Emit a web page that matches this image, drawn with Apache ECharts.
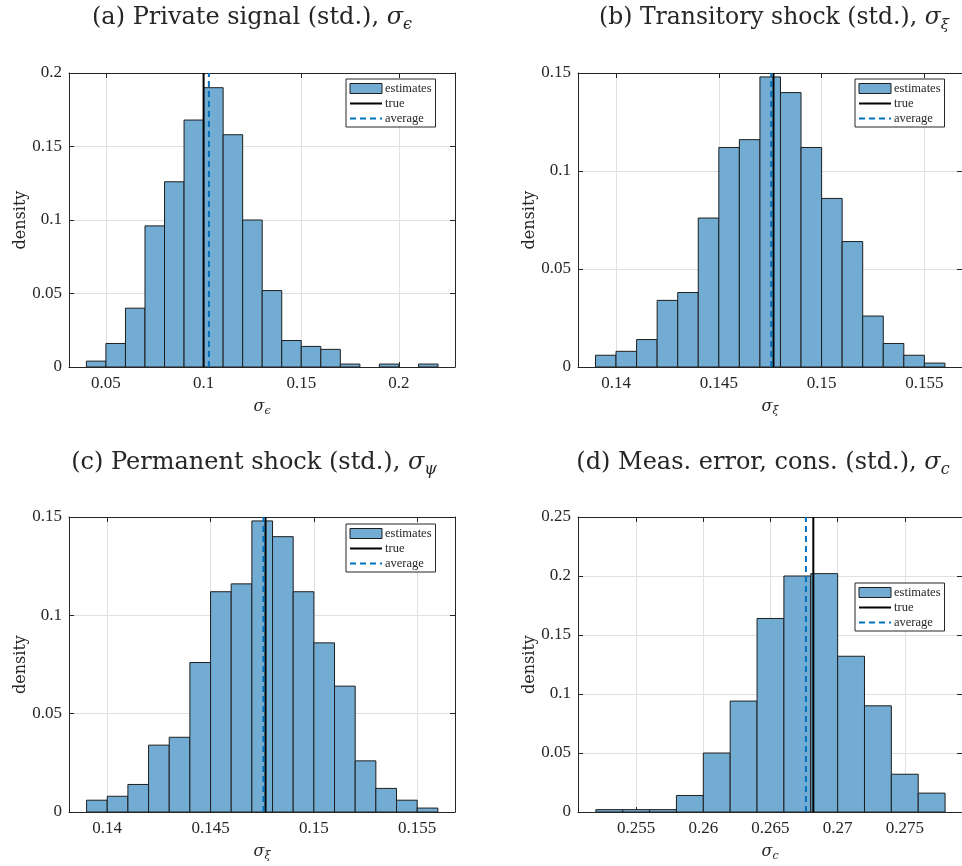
<!DOCTYPE html>
<html>
<head>
<meta charset="utf-8">
<script src="https://cdn.jsdelivr.net/npm/echarts@6/dist/echarts.min.js"></script>
<style>
html,body{margin:0;padding:0;background:#fff;}
#chart{width:962px;height:866px;}
</style>
</head>
<body>
<div id="chart"></div>
<script>
// ---------------- DATA ----------------
// (a) Private signal
const binsA = [0.04,0.05,0.06,0.07,0.08,0.09,0.10,0.11,0.12,0.13,0.14,0.15,0.16,0.17,0.18,0.19,0.20,0.21,0.22];
const densA = [0.004,0.016,0.040,0.096,0.126,0.168,0.190,0.158,0.100,0.052,0.018,0.014,0.012,0.002,0.000,0.002,0.000,0.002];
const trueA = 0.1;
const avgA = 0.1027;
const ticksA = [0.05,0.1,0.15,0.2];

// (b) Transitory shock and (c) Permanent shock (identical histograms)
const binsB = [0.139,0.140,0.141,0.142,0.143,0.144,0.145,0.146,0.147,0.148,0.149,0.150,0.151,0.152,0.153,0.154,0.155,0.156];
const densB = [0.006,0.008,0.014,0.034,0.038,0.076,0.112,0.116,0.148,0.140,0.112,0.086,0.064,0.026,0.012,0.006,0.002];
const trueB = 0.14766;
const avgB = 0.14755;
const ticksB = [0.14,0.145,0.15,0.155];

const binsC = binsB;
const densC = densB;
const trueC = 0.14766;
const avgC = 0.14756;
const ticksC = ticksB;

// (d) Measurement error, consumption
const binsD = [0.252,0.254,0.256,0.258,0.260,0.262,0.264,0.266,0.268,0.270,0.272,0.274,0.276,0.278];
const densD = [0.002,0.002,0.002,0.014,0.050,0.094,0.164,0.200,0.202,0.132,0.090,0.032,0.016];
const trueD = 0.26819;
const avgD = 0.26764;
const ticksD = [0.255,0.26,0.265,0.27,0.275];

const titles = [
  '(a) Private signal (std.), {s|σ}{b|ϵ}',
  '(b) Transitory shock (std.), {s|σ}{b|ξ}',
  '(c) Permanent shock (std.), {s|σ}{b|ψ}',
  '(d) Meas. error, cons. (std.), {s|σ}{b|c}'
];
const xNames = ['{s|σ}{b|ϵ}','{s|σ}{b|ξ}','{s|σ}{b|ξ}','{s|σ}{b|c}'];
const legendNames = ['estimates','true','average'];

// ---------------- LAYOUT ----------------
const FONT = '"Liberation Serif","DejaVu Serif",serif';
const WFONT = '"DejaVu Serif","Liberation Serif",serif';
const TXT = '#262626';
const BAR = '#72acd3';
const EDGE = '#1e1e1e';
const GRIDC = '#e0e0e0';

const panels = [
  {bins:binsA, dens:densA, tv:trueA, av:avgA, ticks:ticksA, xmin:0.0311, xmax:0.2287, ymax:0.2,
   grid:{left:69, top:73, width:386, height:294}, legend:{left:346, top:79}, title:{x:252, y:18, fs:24}},
  {bins:binsB, dens:densB, tv:trueB, av:avgB, ticks:ticksB, xmin:0.13815, xmax:0.15683, ymax:0.15,
   grid:{left:578, top:73, width:386, height:294}, legend:{left:855, top:79}, title:{x:774, y:18, fs:23.5}},
  {bins:binsC, dens:densC, tv:trueC, av:avgC, ticks:ticksC, xmin:0.13815, xmax:0.15683, ymax:0.15,
   grid:{left:69, top:517, width:386, height:295}, legend:{left:346, top:524}, title:{x:254, y:463, fs:24}},
  {bins:binsD, dens:densD, tv:trueD, av:avgD, ticks:ticksD, xmin:0.25067, xmax:0.27926, ymax:0.25,
   grid:{left:578, top:517, width:386, height:295}, legend:{left:855, top:583}, title:{x:763, y:463, fs:24}}
];

function richTitle(fs) {
  return {
    s:{fontFamily:WFONT, fontStyle:'italic', fontSize:fs, color:TXT, lineHeight:fs+6, verticalAlign:'middle'},
    b:{fontFamily:WFONT, fontStyle:'italic', fontSize:Math.round(fs*0.65), color:TXT, lineHeight:Math.round(fs*0.65), verticalAlign:'bottom'}
  };
}
const richAxis = {
  s:{fontFamily:WFONT, fontStyle:'italic', fontSize:16, color:TXT, lineHeight:20, verticalAlign:'middle'},
  b:{fontFamily:WFONT, fontStyle:'italic', fontSize:11, color:TXT, lineHeight:11, verticalAlign:'bottom'}
};

const grids = [], xAxes = [], yAxes = [], series = [], legends = [], graphics = [];

panels.forEach((p, i) => {
  grids.push(Object.assign({containLabel:false, show:false}, p.grid));
  // bottom x axis
  xAxes.push({
    type:'value', gridIndex:i, position:'bottom', min:p.xmin, max:p.xmax,
    axisLine:{show:true, onZero:false, lineStyle:{color:TXT, width:1}},
    axisTick:{show:true, inside:true, length:5, customValues:p.ticks, lineStyle:{color:TXT}},
    axisLabel:{show:true, customValues:p.ticks, color:TXT, fontFamily:FONT, fontSize:17, margin:8,
               formatter:v => String(+v.toFixed(4))},
    splitLine:{show:true, lineStyle:{color:GRIDC, width:1}},
    name:xNames[i], nameLocation:'middle', nameGap:30,
    nameTextStyle:{fontFamily:WFONT, fontSize:16, color:TXT, rich:richAxis}
  });
  // top x axis (box + ticks)
  xAxes.push({
    type:'value', gridIndex:i, position:'top', min:p.xmin, max:p.xmax,
    axisLine:{show:true, onZero:false, lineStyle:{color:TXT, width:1}},
    axisTick:{show:true, inside:true, length:5, customValues:p.ticks, lineStyle:{color:TXT}},
    axisLabel:{show:false, customValues:p.ticks},
    splitLine:{show:false}
  });
  // left y axis
  yAxes.push({
    type:'value', gridIndex:i, position:'left', min:0, max:p.ymax, interval:0.05,
    axisLine:{show:true, onZero:false, lineStyle:{color:TXT, width:1}},
    axisTick:{show:true, inside:true, length:5, lineStyle:{color:TXT}},
    axisLabel:{show:true, color:TXT, fontFamily:FONT, fontSize:17, margin:7,
               formatter:v => String(+v.toFixed(4))},
    splitLine:{show:true, lineStyle:{color:GRIDC, width:1}},
    name:'density', nameLocation:'middle', nameGap:38, nameRotate:90,
    nameTextStyle:{fontFamily:WFONT, fontSize:16, color:TXT}
  });
  // right y axis
  yAxes.push({
    type:'value', gridIndex:i, position:'right', min:0, max:p.ymax, interval:0.05,
    axisLine:{show:true, onZero:false, lineStyle:{color:TXT, width:1}},
    axisTick:{show:true, inside:true, length:5, lineStyle:{color:TXT}},
    axisLabel:{show:false},
    splitLine:{show:false}
  });

  const histData = p.dens.map((d, k) => [p.bins[k], p.bins[k+1], d]);
  series.push({
    name:'estimates', type:'custom', xAxisIndex:2*i, yAxisIndex:2*i, clip:true, z:2,
    itemStyle:{color:BAR, borderColor:EDGE, borderWidth:1},
    encode:{x:[0,1], y:2},
    data:histData,
    renderItem:(params, api) => {
      const x0 = api.value(0), x1 = api.value(1), y = api.value(2);
      if (y <= 0) return null;
      const a = api.coord([x0, y]);
      const b = api.coord([x1, 0]);
      return {
        type:'rect',
        shape:{x:a[0], y:a[1], width:b[0]-a[0], height:b[1]-a[1]},
        style:{fill:BAR, stroke:EDGE, lineWidth:1}
      };
    }
  });
  series.push({
    name:'true', type:'line', xAxisIndex:2*i, yAxisIndex:2*i, z:4,
    symbol:'none', silent:true,
    lineStyle:{color:'#000000', width:2, type:'solid'},
    itemStyle:{color:'#000000'},
    data:[[p.tv, 0],[p.tv, p.ymax]]
  });
  series.push({
    name:'average', type:'line', xAxisIndex:2*i, yAxisIndex:2*i, z:5,
    symbol:'none', silent:true,
    lineStyle:{color:'#0072bd', width:2, type:[6,4]},
    itemStyle:{color:'#0072bd'},
    data:[[p.av, 0],[p.av, p.ymax]]
  });

  const hidden = {color:'rgba(0,0,0,0)', borderWidth:0, opacity:0};
  legends.push({
    left:p.legend.left, top:p.legend.top, orient:'vertical',
    itemWidth:32, itemHeight:10, itemGap:2,
    padding:[3,4,2,3],
    backgroundColor:'#ffffff', borderColor:TXT, borderWidth:1, borderRadius:0,
    selectedMode:false,
    textStyle:{fontFamily:FONT, fontSize:12.5, lineHeight:12.5, color:TXT, padding:[0,0,0,-2]},
    data:[
      {name:'estimates', icon:'rect', itemStyle:{color:BAR, borderColor:EDGE, borderWidth:1}},
      {name:'true', itemStyle:hidden},
      {name:'average', itemStyle:hidden}
    ]
  });

  graphics.push({
    type:'text', x:p.title.x, y:p.title.y, silent:true,
    style:{
      text:titles[i], rich:richTitle(p.title.fs),
      fontFamily:WFONT, fontSize:p.title.fs, fill:TXT,
      textAlign:'center', textVerticalAlign:'middle', align:'center', verticalAlign:'middle'
    }
  });
});

const chart = echarts.init(document.getElementById('chart'), null, {renderer:'canvas'});
chart.setOption({
  animation:false,
  backgroundColor:'#ffffff',
  textStyle:{fontFamily:FONT},
  grid:grids,
  xAxis:xAxes,
  yAxis:yAxes,
  legend:legends,
  series:series,
  graphic:graphics
});
</script>
</body>
</html>
